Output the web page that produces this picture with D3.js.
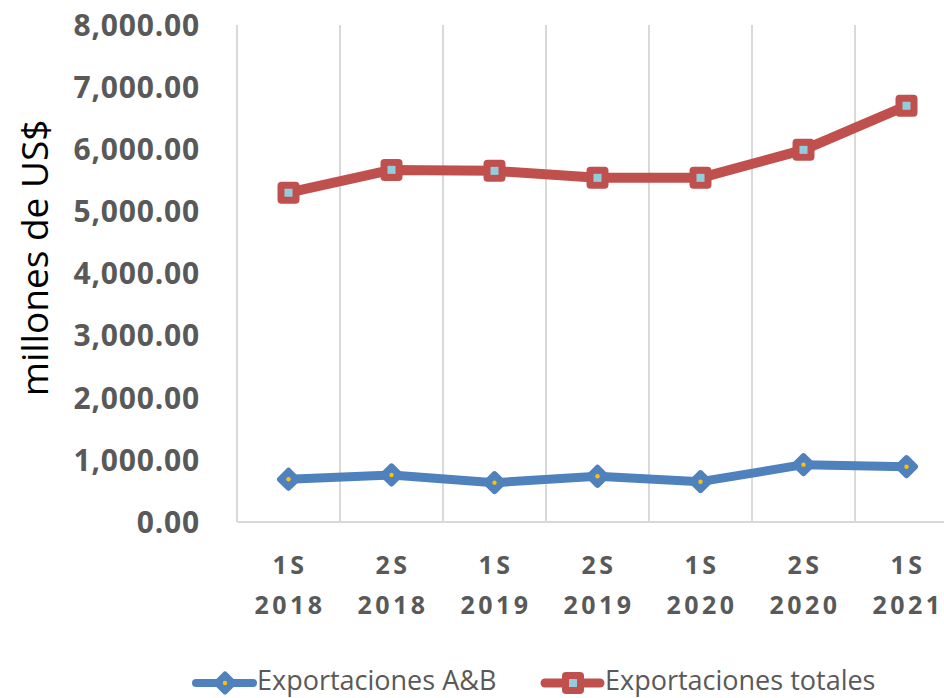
<!DOCTYPE html>
<html lang="es">
  <head>
    <meta charset="UTF-8" />
    <title>Exportaciones</title>
    <style>
      body { margin: 0; background: #fff; }
      svg { display: block; font-family: 'Open Sans', sans-serif; }
    </style>
  </head>
  <body>
    <svg width="944" height="698"></svg>
    <script src="https://d3js.org/d3.v7.min.js"></script>
    <script>
      const periods = ['1S 2018', '2S 2018', '1S 2019', '2S 2019', '1S 2020', '2S 2020', '1S 2021'];
      const exportAB = [688, 757, 633, 736, 649, 923, 890];
      const exportTotal = [5300, 5668, 5652, 5540, 5540, 5990, 6700];
      const yTicks = [0, 1000, 2000, 3000, 4000, 5000, 6000, 7000, 8000];

      const svg = d3.select('svg');
      const plotLeft = 237, plotTop = 25, plotBottom = 522, bandW = 103;

      const x = d3.scaleBand()
        .domain(periods)
        .range([plotLeft, plotLeft + bandW * periods.length]);
      const y = d3.scaleLinear().domain([0, 8000]).range([plotBottom, plotTop]);

      // vertical gridlines between categories
      svg.append('g')
        .selectAll('line')
        .data(periods.slice(1))
        .join('line')
        .attr('x1', (d) => x(d)).attr('x2', (d) => x(d))
        .attr('y1', plotTop).attr('y2', plotBottom)
        .attr('stroke', '#d9d9d9').attr('stroke-width', 2);

      // axes lines
      svg.append('line')
        .attr('x1', plotLeft).attr('x2', plotLeft)
        .attr('y1', plotTop).attr('y2', plotBottom)
        .attr('stroke', '#d9d9d9').attr('stroke-width', 2);
      svg.append('line')
        .attr('x1', plotLeft).attr('x2', 944)
        .attr('y1', plotBottom).attr('y2', plotBottom)
        .attr('stroke', '#d9d9d9').attr('stroke-width', 2);

      const fmt = d3.format(',.2f');
      svg.append('g')
        .selectAll('text')
        .data(yTicks)
        .join('text')
        .attr('x', 200)
        .attr('y', (d) => y(d))
        .attr('dy', '0.36em')
        .attr('text-anchor', 'end')
        .attr('font-size', 30)
        .attr('font-weight', 'bold')
        .attr('letter-spacing', 0.8)
        .attr('fill', '#595959')
        .text((d) => fmt(d));

      svg.append('text')
        .attr('transform', 'translate(48,258) rotate(-90)')
        .attr('text-anchor', 'middle')
        .attr('font-size', 37)
        .attr('fill', '#000')
        .text('millones de US$');

      // x labels, two lines
      const xl = svg.append('g')
        .selectAll('text')
        .data(periods)
        .join('text')
        .attr('text-anchor', 'middle')
        .attr('font-size', 25)
        .attr('font-weight', 'bold')
        .attr('letter-spacing', 3.5)
        .attr('fill', '#595959');
      xl.append('tspan')
        .attr('x', (d) => x(d) + x.bandwidth() / 2 + 1.5)
        .attr('y', 574)
        .text((d) => d.split(' ')[0]);
      xl.append('tspan')
        .attr('x', (d) => x(d) + x.bandwidth() / 2 + 1.5)
        .attr('y', 614)
        .text((d) => d.split(' ')[1]);

      const cx = (i) => x(periods[i]) + x.bandwidth() / 2;
      const line = d3.line()
        .x((d, i) => cx(i))
        .y((d) => y(d));

      const blue = '#4f81bd', red = '#c0504d';

      // Exportaciones totales
      svg.append('path')
        .datum(exportTotal)
        .attr('d', line)
        .attr('fill', 'none')
        .attr('stroke', red)
        .attr('stroke-width', 10)
        .attr('stroke-linejoin', 'round');
      const sq = (g, px, py) => {
        g.append('rect')
          .attr('x', px - 11).attr('y', py - 11)
          .attr('width', 22).attr('height', 22)
          .attr('rx', 4)
          .attr('fill', red);
        g.append('rect')
          .attr('x', px - 4).attr('y', py - 4)
          .attr('width', 8).attr('height', 8)
          .attr('fill', '#93cddd');
      };
      exportTotal.forEach((v, i) => sq(svg, cx(i), y(v)));

      // Exportaciones A&B
      svg.append('path')
        .datum(exportAB)
        .attr('d', line)
        .attr('fill', 'none')
        .attr('stroke', blue)
        .attr('stroke-width', 9)
        .attr('stroke-linejoin', 'round');
      const dia = (g, px, py) => {
        g.append('rect')
          .attr('x', px - 9).attr('y', py - 9)
          .attr('width', 18).attr('height', 18)
          .attr('rx', 3)
          .attr('transform', `rotate(45,${px},${py})`)
          .attr('fill', blue);
        g.append('circle')
          .attr('cx', px).attr('cy', py).attr('r', 2.2)
          .attr('fill', '#ffc000');
      };
      exportAB.forEach((v, i) => dia(svg, cx(i), y(v)));

      // legend
      const ly = 683;
      svg.append('line')
        .attr('x1', 196).attr('x2', 253).attr('y1', ly).attr('y2', ly)
        .attr('stroke', blue).attr('stroke-width', 8).attr('stroke-linecap', 'round');
      dia(svg, 225, ly);
      svg.append('text')
        .attr('x', 257).attr('y', 690)
        .attr('font-size', 27).attr('fill', '#595959')
        .text('Exportaciones A&B');
      svg.append('line')
        .attr('x1', 545).attr('x2', 600).attr('y1', ly).attr('y2', ly)
        .attr('stroke', red).attr('stroke-width', 9).attr('stroke-linecap', 'round');
      sq(svg, 573, ly);
      svg.append('text')
        .attr('x', 605).attr('y', 690)
        .attr('font-size', 27).attr('fill', '#595959')
        .text('Exportaciones totales');
    </script>
  </body>
</html>
